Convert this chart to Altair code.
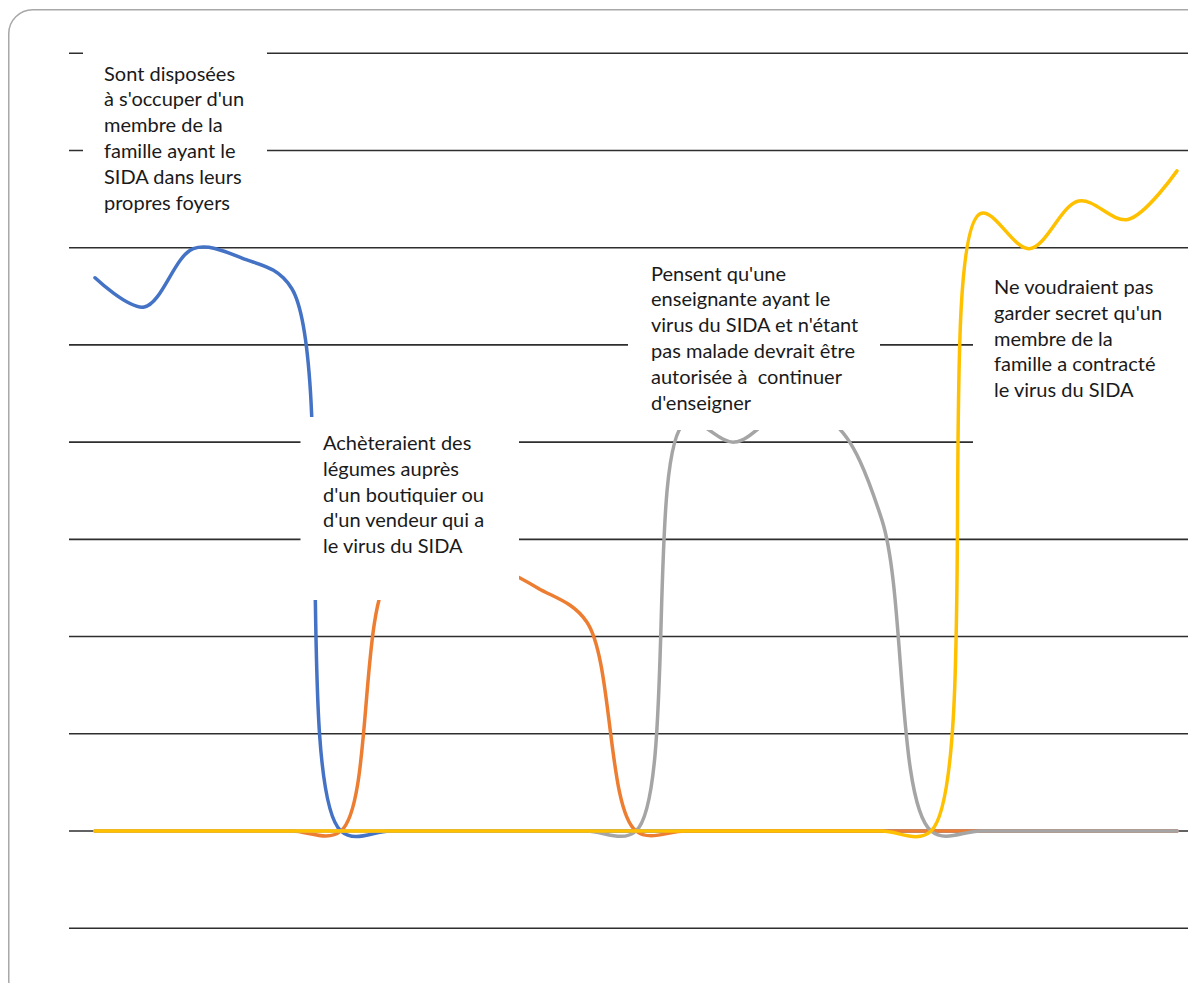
import altair as alt
import pandas as pd

# ---- data -----------------------------------------------------------------
positions = list(range(23))
blue_vals = [56.9, 53.9, 59.9, 58.9, 55.8, 0, 0, 0, 0, 0, 0, 0,
             0, 0, 0, 0, 0, 0, 0, 0, 0, 0, 0]
orange_vals = [0, 0, 0, 0, 0, 0, 26.5, 28.5, 27.5, 25.0, 21.5, 0,
               0, 0, 0, 0, 0, 0, 0, 0, 0, 0, 0]
gray_vals = [0, 0, 0, 0, 0, 0, 0, 0, 0, 0, 0, 0,
             42.0, 40.0, 43.0, 42.0, 32.0, 0, 0, 0, 0, 0, 0]
yellow_vals = [0, 0, 0, 0, 0, 0, 0, 0, 0, 0, 0, 0,
               0, 0, 0, 0, 0, 0, 63.5, 59.9, 64.8, 62.9, 67.9]
series_names = ["Série 1", "Série 2", "Série 3", "Série 4"]
series_colors = ["#4472C4", "#ED7D31", "#A5A5A5", "#FFC000"]
grid_values = [-10, 0, 10, 20, 30, 40, 50, 60, 70, 80]

label_1 = ["Sont disposées", "à s'occuper d'un", "membre de la",
           "famille ayant le", "SIDA dans leurs", "propres foyers"]
label_2 = ["\u2005Achèteraient des", "légumes auprès", "d'un boutiquier ou",
           "d'un vendeur qui a", "le virus du SIDA"]
label_3 = ["Pensent qu'une", "enseignante ayant le", "virus du SIDA et n'étant",
           "pas malade devrait être", "autorisée à\u00a0 continuer", "d'enseigner"]
label_4 = ["Ne voudraient pas", "garder secret qu'un", "membre de la",
           "famille a contracté", "le virus du SIDA"]

# ---- layout ---------------------------------------------------------------
W, H = 1180, 975


def px(v):
    """page pixel -> plot pixel (page has an 8px margin)"""
    return v - 8


xscale = alt.Scale(domain=[-1.769, 22.224], nice=False, zero=False)
yscale = alt.Scale(domain=[-15.635, 84.653], nice=False, zero=False)

one = pd.DataFrame({"k": [0]})

frame = alt.Chart(one).mark_rect(
    fillOpacity=0, stroke="#a8a8a8", strokeWidth=1.5, cornerRadius=24
).encode(
    x=alt.value(px(8.75)), x2=alt.value(W + 30),
    y=alt.value(px(9.75)), y2=alt.value(px(1004)),
)

grid = alt.Chart(pd.DataFrame({"v": grid_values})).mark_rule(
    stroke="#2e2e2e", strokeWidth=1.6
).encode(
    y=alt.Y("v:Q", scale=yscale, axis=None),
    x=alt.value(px(69)), x2=alt.value(W),
)

line_layers = []
for name, vals, col in zip(series_names,
                           [blue_vals, orange_vals, gray_vals, yellow_vals],
                           series_colors):
    df = pd.DataFrame({"i": positions, "v": vals, "s": name})
    line_layers.append(
        alt.Chart(df).mark_line(
            interpolate="catmull-rom", strokeWidth=3.5, color=col,
            strokeCap="round", strokeJoin="round"
        ).encode(
            x=alt.X("i:Q", scale=xscale, axis=None),
            y=alt.Y("v:Q", scale=yscale, axis=None),
        )
    )


def box(x1, y1, x2, y2):
    return alt.Chart(one).mark_rect(fill="white", strokeWidth=0).encode(
        x=alt.value(px(x1)), x2=alt.value(px(x2)),
        y=alt.value(px(y1)), y2=alt.value(px(y2)),
    )


def label(x, y, lines):
    return alt.Chart(one).mark_text(
        align="left", baseline="alphabetic", font="Lato", fontSize=20,
        lineHeight=25.8, color="#1a1a1a"
    ).encode(
        x=alt.value(px(x)), y=alt.value(px(y)), text=alt.value(lines)
    )


boxes = [
    box(83, 30, 267, 236),
    box(300.5, 417, 519, 600),
    box(628, 249, 880, 430),
    box(973, 262, 1192, 443),
]
texts = [
    label(104, 80.7, label_1),
    label(323, 450, label_2),
    label(651, 280.7, label_3),
    label(994, 294, label_4),
]

chart = alt.layer(frame, grid, *line_layers, *boxes, *texts).properties(
    width=W, height=H, padding=0,
    autosize=alt.AutoSizeParams(type="none"),
).configure_view(strokeWidth=0)

chart.save("out.html", embed_options={"renderer": "svg", "actions": False})
